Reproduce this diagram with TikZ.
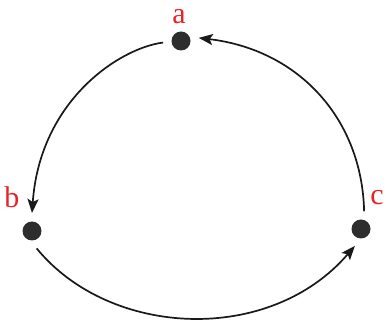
\documentclass[tikz,border=0pt]{standalone}
\usepackage{fontspec}
\setmainfont{Liberation Serif}
\usetikzlibrary{arrows.meta}
\definecolor{lblred}{RGB}{232,34,38}
\definecolor{dotgray}{RGB}{45,45,45}
\begin{document}
\begin{tikzpicture}[x=1pt,y=-1pt,
  dot/.style={circle,fill=dotgray,minimum size=19pt,inner sep=0pt,outer sep=8.5pt},
  lbl/.style={text=lblred,font=\fontsize{30}{36}\selectfont,inner sep=0pt,anchor=base},
  conn/.style={draw=black!90,line width=1.7pt,-{Stealth[length=14pt,width=11pt,inset=3pt]}}]
\useasboundingbox (0,0) rectangle (386,328);
\node[dot] (a) at (181,41) {};
\node[dot] (b) at (32,231) {};
\node[dot] (c) at (361,229) {};
\node[lbl] (la) at (179,24) {a};
\node[lbl] (lb) at (12,208) {b};
\node[lbl] (lc) at (377,205) {c};
\draw[conn] (a.185) .. controls (120,48) and (40,100) .. (b.90);
\draw[conn] (b.-75) .. controls (110,338) and (270,345) .. (c.-110);
\draw[conn] (c.80) .. controls (362,120) and (300,50) .. (a.10);
\end{tikzpicture}
\end{document}
